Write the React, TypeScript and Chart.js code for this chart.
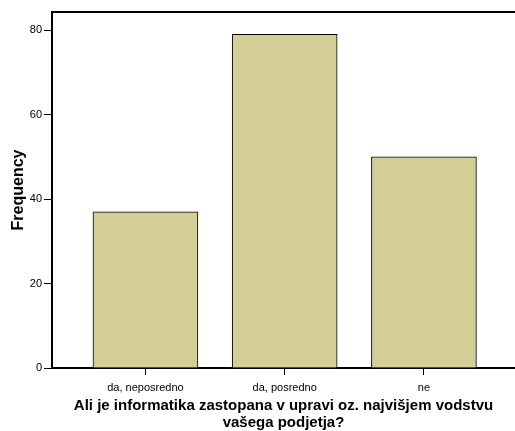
import React, { useEffect, useRef } from "react";
import { Chart, registerables } from "chart.js";

Chart.register(...registerables);

const categories = ["da, neposredno", "da, posredno", "ne"];
const frequencies = [37, 79, 50];
const yTicks = [0, 20, 40, 60, 80];

const framePlugin = {
  id: "frame",
  afterDraw(chart: any) {
    const { ctx, chartArea } = chart;
    ctx.save();
    ctx.strokeStyle = "#000";
    ctx.lineWidth = 2;
    ctx.beginPath();
    ctx.moveTo(chartArea.left, chartArea.bottom);
    ctx.lineTo(chartArea.left, chartArea.top);
    ctx.lineTo(chartArea.right + 5, chartArea.top);
    ctx.stroke();
    ctx.restore();
  },
};

export default function App() {
  const ref = useRef<HTMLCanvasElement>(null);
  useEffect(() => {
    if (!ref.current) return;
    const chart = new Chart(ref.current, {
      type: "bar",
      data: {
        datasets: [
          {
            data: frequencies.map((v, i) => ({ x: i, y: v })),
            backgroundColor: "#D3CE98",
            borderColor: "#000",
            borderWidth: 1,
            barThickness: 105,
          },
        ],
      },
      options: {
        animation: false,
        responsive: false,
        layout: { padding: { top: 12, right: 0, left: 0, bottom: 0 } },
        plugins: { legend: { display: false }, tooltip: { enabled: false } },
        scales: {
          x: {
            type: "linear",
            offset: false,
            min: -0.671,
            max: 2.654,
            afterBuildTicks: (s: any) => {
              s.ticks = categories.map((_, i) => ({ value: i }));
            },
            afterFit: (s: any) => {
              s.height = 63;
            },
            ticks: {
              callback: (v: any) => categories[v] ?? "",
              color: "#000",
              font: { family: "Arial, Liberation Sans", size: 11 },
              padding: 6,
              maxRotation: 0,
              autoSkip: false,
            },
            grid: { drawOnChartArea: false, drawTicks: true, tickLength: 7, color: "#000", tickWidth: 1, offset: false },
            border: { color: "#000", width: 2 },
            title: {
              display: true,
              text: ["Ali je informatika zastopana v upravi oz. najvišjem vodstvu", "vašega podjetja?"],
              color: "#000",
              font: { family: "Arial, Liberation Sans", size: 15, weight: "bold", lineHeight: 1.13 },
              padding: { top: 0, bottom: 0 },
            },
          },
          y: {
            min: 0,
            max: 84.3,
            afterBuildTicks: (s: any) => {
              s.ticks = yTicks.map((v) => ({ value: v }));
            },
            afterFit: (s: any) => {
              s.width = 52;
            },
            ticks: {
              color: "#000",
              font: { family: "Arial, Liberation Sans", size: 11 },
              padding: 2,
            },
            grid: { drawOnChartArea: false, drawTicks: true, tickLength: 8, color: "#000", tickWidth: 1 },
            border: { color: "#000", width: 2 },
            title: {
              display: true,
              text: "Frequency",
              color: "#000",
              font: { family: "Arial, Liberation Sans", size: 16, weight: "bold" },
              padding: { top: 9, bottom: 4 },
            },
          },
        },
      },
      plugins: [framePlugin],
    } as any);
    return () => chart.destroy();
  }, []);
  return (
    <div style={{ position: "fixed", left: 0, top: 0, width: 515, height: 431, background: "#fff" }}>
      <canvas ref={ref} width={515} height={431} />
    </div>
  );
}
